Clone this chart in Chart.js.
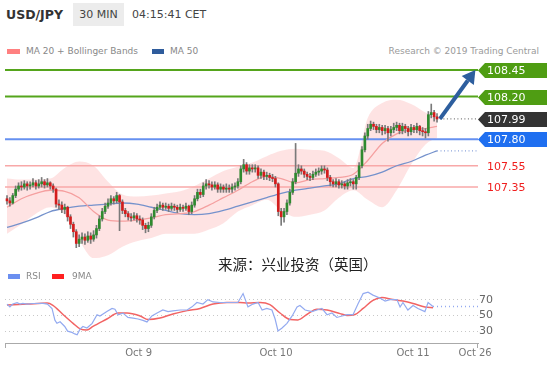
<!DOCTYPE html>
<html>
<head>
<meta charset="utf-8">
<script src="https://cdn.jsdelivr.net/npm/chart.js@4.4.1/dist/chart.umd.min.js"></script>
<style>
  body { margin: 0; width: 547px; height: 365px; position: relative; background: #fff; overflow: hidden; font-family: "DejaVu Sans", sans-serif; }
  .a { position: absolute; white-space: nowrap; }
  .sw { position: absolute; height: 5px; }
  .lg { font-size: 9px; color: #888; line-height: 12px; }
  canvas { position: absolute; left: 0; }
</style>
</head>
<body>
<div class="a" style="left:6px;top:3px;line-height:23px;font-weight:bold;font-size:12.5px;color:#333">USD/JPY</div>
<div class="a" style="left:73px;top:3px;width:51px;height:23px;line-height:23px;background:#ececec;text-align:center;font-size:11px;color:#444">30 MIN</div>
<div class="a" style="left:132px;top:3px;line-height:23px;font-size:11px;color:#444">04:15:41 CET</div>

<div class="sw" style="left:7px;top:49px;width:13px;background:#ff8080"></div>
<div class="a lg" style="left:26px;top:45px">MA 20 + Bollinger Bands</div>
<div class="sw" style="left:152px;top:49px;width:12px;background:#2f5c9c"></div>
<div class="a lg" style="left:170px;top:45px">MA 50</div>
<div class="a lg" style="right:8px;top:45px;color:#9a9a9a">Research © 2019 Trading Central</div>

<canvas id="main" width="547" height="200" style="top:58px"></canvas>

<div class="a" style="left:218px;top:254px;font-size:14.5px;line-height:20px;color:#222;font-family:'Noto Sans CJK SC',sans-serif">来源：兴业投资（英国）</div>

<div class="sw" style="left:8px;top:274px;width:12px;background:#6b8ff0"></div>
<div class="a lg" style="left:26px;top:270px">RSI</div>
<div class="sw" style="left:52px;top:274px;width:12px;background:#ff2020"></div>
<div class="a lg" style="left:72px;top:270px">9MA</div>

<canvas id="rsi" width="547" height="85" style="top:280px"></canvas>

<script>
// 30 min candles, index 0 = first candle on the left
const firstOpen = 107.24;
const closes = [
  107.22,107.20,107.27,107.33,107.36,107.35,107.38,107.36,107.37,107.39,
  107.36,107.38,107.40,107.37,107.39,107.36,107.33,107.19,107.18,107.14,
  107.16,107.07,107.00,106.93,106.82,106.86,106.88,106.85,106.89,106.86,
  106.90,106.96,107.05,107.12,107.17,107.20,107.24,107.22,107.27,107.21,
  107.13,107.10,107.07,107.06,107.08,107.05,107.04,106.99,106.96,106.99,
  107.07,107.13,107.16,107.18,107.16,107.17,107.15,107.17,107.16,107.14,
  107.16,107.15,107.17,107.12,107.18,107.24,107.30,107.28,107.36,107.38,
  107.37,107.35,107.37,107.33,107.35,107.33,107.34,107.33,107.35,107.36,
  107.40,107.52,107.56,107.50,107.53,107.52,107.53,107.46,107.49,107.45,
  107.46,107.44,107.43,107.38,107.12,107.07,107.12,107.20,107.30,107.40,
  107.48,107.52,107.50,107.47,107.45,107.44,107.47,107.49,107.50,107.52,
  107.51,107.44,107.40,107.38,107.40,107.37,107.38,107.36,107.39,107.40,
  107.38,107.44,107.55,107.70,107.83,107.90,107.94,107.92,107.89,107.91,
  107.88,107.90,107.86,107.89,107.91,107.93,107.88,107.92,107.90,107.87,
  107.91,107.89,107.92,107.88,107.87,107.86,108.03,108.05,108.01,107.99
];
const highs = [
  107.27,107.25,107.29,107.36,107.39,107.40,107.41,107.40,107.40,107.43,
  107.41,107.42,107.44,107.42,107.43,107.40,107.38,107.34,107.23,107.21,
  107.19,107.17,107.09,107.02,106.95,106.90,106.92,106.91,106.93,106.92,
  106.94,106.99,107.08,107.15,107.20,107.24,107.27,107.26,107.30,107.28,
  107.23,107.15,107.12,107.10,107.11,107.10,107.08,107.06,107.01,107.02,
  107.10,107.16,107.19,107.21,107.20,107.20,107.19,107.20,107.19,107.18,
  107.19,107.18,107.20,107.18,107.21,107.27,107.33,107.33,107.39,107.42,
  107.41,107.40,107.40,107.39,107.38,107.37,107.38,107.37,107.38,107.39,
  107.43,107.55,107.61,107.58,107.56,107.56,107.56,107.55,107.52,107.51,
  107.49,107.48,107.47,107.45,107.39,107.15,107.15,107.23,107.33,107.43,
  107.76,107.56,107.55,107.52,107.49,107.48,107.50,107.52,107.53,107.55,
  107.55,107.53,107.46,107.42,107.43,107.42,107.41,107.40,107.42,107.43,
  107.42,107.46,107.58,107.73,107.86,107.94,107.97,107.96,107.94,107.94,
  107.93,107.93,107.92,107.92,107.95,107.96,107.95,107.95,107.94,107.92,
  107.94,107.93,107.95,107.93,107.91,107.90,108.06,108.13,108.07,108.04
];
const lows = [
  107.19,107.17,107.19,107.25,107.31,107.32,107.33,107.32,107.33,107.35,
  107.33,107.34,107.35,107.34,107.35,107.33,107.30,107.16,107.14,107.11,
  107.10,107.03,106.96,106.88,106.78,106.79,106.82,106.81,106.83,106.82,
  106.84,106.87,106.94,107.03,107.10,107.15,107.18,107.19,107.20,106.94,
  107.10,107.07,107.04,107.03,107.04,107.02,107.00,106.95,106.92,106.93,
  106.97,107.05,107.11,107.14,107.13,107.14,107.12,107.13,107.13,107.11,
  107.12,107.12,107.13,107.09,107.10,107.16,107.22,107.25,107.26,107.33,
  107.34,107.32,107.33,107.30,107.30,107.30,107.30,107.30,107.30,107.32,
  107.34,107.38,107.49,107.47,107.47,107.49,107.49,107.43,107.43,107.42,
  107.42,107.41,107.40,107.35,107.08,106.99,107.02,107.09,107.18,107.28,
  107.38,107.45,107.47,107.44,107.42,107.41,107.42,107.45,107.46,107.47,
  107.48,107.41,107.36,107.35,107.35,107.34,107.34,107.33,107.33,107.36,
  107.33,107.33,107.42,107.53,107.68,107.80,107.88,107.89,107.86,107.86,
  107.84,107.85,107.78,107.83,107.86,107.88,107.85,107.85,107.86,107.83,
  107.84,107.86,107.86,107.84,107.83,107.81,107.83,108.00,107.97,107.96
];

// indicators read every 5 candles
const bandIdx = [0,5,10,15,20,25,30,35,40,45,50,55,60,65,70,75,80,85,90,95,100,105,110,115,120,125,130,135,140,145,149];
const ma20 = [107.16,107.24,107.29,107.32,107.31,107.25,107.12,107.04,107.03,107.04,107.06,107.09,107.10,107.12,107.18,107.25,107.32,107.40,107.45,107.43,107.39,107.42,107.43,107.44,107.47,107.60,107.76,107.85,107.89,107.90,107.92];
const bbUpper = [107.43,107.42,107.42,107.43,107.53,107.59,107.55,107.40,107.28,107.26,107.27,107.29,107.31,107.36,107.43,107.50,107.54,107.58,107.64,107.69,107.71,107.70,107.69,107.62,107.53,108.00,108.14,108.17,108.13,108.05,108.00];
const bbLower = [106.91,107.00,107.10,107.16,107.09,106.85,106.68,106.71,106.79,106.84,106.87,106.91,106.91,106.91,106.95,107.01,107.12,107.18,107.23,107.13,107.07,107.09,107.13,107.25,107.32,107.23,107.16,107.32,107.56,107.75,107.81];
const ma50 = [106.97,107.01,107.06,107.12,107.15,107.17,107.18,107.19,107.20,107.19,107.16,107.13,107.10,107.09,107.10,107.13,107.17,107.21,107.25,107.29,107.32,107.34,107.36,107.38,107.43,107.45,107.49,107.55,107.59,107.65,107.69];

// support / resistance levels and right-side tags
const levelVals = [108.45, 108.20, 107.80, 107.55, 107.35];
const levelColors = ['#55a51c', '#55a51c', '#6690f0', '#f8a8a8', '#f8a8a8'];
const tagVals = [108.45, 108.20, 107.99, 107.80, 107.55, 107.35];
const tagBg = ['#4f9d13', '#4f9d13', '#333333', '#1f6ff0', null, null];
const tagFg = ['#fff', '#fff', '#fff', '#fff', '#f01e1e', '#f01e1e'];
const arrowFrom = [150, 107.99];
const arrowTo = [162.3, 108.45];

// RSI panel
const rsiIdx = [0,1,2,3.5,4.5,5.5,7,9,12.5,14,
  15.6,16.6,17.3,18.4,20,21,22.5,23.5,24.3,25.3,
  26.3,27.7,29.5,31.2,32.2,34.6,36.4,37.4,38.5,40.2,
  41.9,43.7,45.4,47.1,48.5,50.2,52,54,55.8,57.5,
  60,62.4,64.1,65.8,67.9,69.6,71.4,73.8,76.2,78.3,
  80,81.8,83.5,85.2,87,88.4,90,91.8,92.9,93.9,
  95.3,97,98.8,100.5,101.5,103.3,105.7,107.4,109.1,110.9,
  112.6,114.3,116.1,117.8,119.9,121.6,123.4,125.1,126.8,129.2,
  131,132.7,135.1,136.2,137.2,138.9,140.7,142.4,144.8,145.9,147.6];
const rsiVal = [64.6,61,64.6,66.5,64.6,65.5,64.6,65.3,65.5,64.6,
  59,44,40,42,36,30,28.4,26.5,25.4,32.6,
  36,34,40,51,49.4,55,59,58,51,53,
  47.5,46.7,45.5,43.7,41.8,49.4,53.2,57,55,55.8,
  57,57,61,66.6,64.6,70.3,67.3,66.6,66.6,66.6,
  66.6,78,61,64.6,66.6,57,59,57,45.5,30.3,
  34,40,49.4,60.9,62.7,57,55,57,59,51,
  53.2,47.5,49.4,51,51,64.6,78,79.8,76,72.3,
  68.4,70.3,70.3,60.9,66.6,57,62.7,59,55,66.6,61.5];
const maIdx = [0,7,13.9,15.9,19.4,22.9,25.3,27.7,29.8,34.6,38.5,41.6,46.1,48.9,53,57.5,62.4,66.9,71.4,76.2,80.7,83.5,87.7,91.1,94.6,98.1,100.8,103.9,107.4,110.9,115.4,117.8,120.6,123.4,126.8,129.9,133.7,137.2,140.7,144.8,147.6];
const ma9Val = [63.5,64.6,65.8,63,51.3,40,33,31.5,36,45.5,53.2,53.2,49.4,44.8,46.7,52,56.2,59,64.6,66.6,66.5,66,66.5,63.8,53.2,44.8,44.4,51.3,58.1,57,52.4,50.1,51.3,59,69.3,73,70.3,68.4,65.4,60.9,60];
const rsiGrid = [30, 50, 70];

const tickPos = [45.6, 93.2, 140.7, 162.2];
const tickLabels = ['Oct 9', 'Oct 10', 'Oct 11', 'Oct 26'];

const xMin = -0.693, xMax = 163.2;

Chart.defaults.font.family = '"DejaVu Sans", sans-serif';
Chart.defaults.animation = false;

const pts = (xs, ys) => xs.map((v, k) => ({x: v, y: ys[k]}));
const idx = closes.map((c, i) => i);
const opens = closes.map((c, i) => i === 0 ? firstOpen : closes[i - 1]);
const upColor = '#2f8a2f', downColor = '#d41c1c';

const lastIdx = idx[idx.length - 1];
const levelSets = levelVals.map((v, k) => ({
  type: 'line', data: [{x: xMin, y: v}, {x: xMax, y: v}],
  borderColor: levelColors[k], borderWidth: k < 3 ? 2 : 1.5,
  pointRadius: 0, order: 5
}));

const overlay = {
  id: 'overlay',
  afterDatasetsDraw(chart) {
    const {ctx, chartArea} = chart;
    const x = chart.scales.x, y = chart.scales.y;
    // arrow
    const p0 = {x: x.getPixelForValue(arrowFrom[0]), y: y.getPixelForValue(arrowFrom[1])};
    const p1 = {x: x.getPixelForValue(arrowTo[0]), y: y.getPixelForValue(arrowTo[1])};
    const ang = Math.atan2(p1.y - p0.y, p1.x - p0.x);
    const head = 13, hw = 7.5;
    const bx = p1.x - head * Math.cos(ang), by = p1.y - head * Math.sin(ang);
    ctx.save();
    ctx.strokeStyle = '#2d5e9e';
    ctx.fillStyle = '#2d5e9e';
    ctx.lineWidth = 4;
    ctx.beginPath(); ctx.moveTo(p0.x, p0.y); ctx.lineTo(bx, by); ctx.stroke();
    ctx.beginPath();
    ctx.moveTo(p1.x, p1.y);
    ctx.lineTo(bx + hw * Math.sin(ang), by - hw * Math.cos(ang));
    ctx.lineTo(bx - hw * Math.sin(ang), by + hw * Math.cos(ang));
    ctx.closePath(); ctx.fill();
    ctx.restore();

    // price tags
    const left = chartArea.right;
    tagVals.forEach((v, k) => {
      const py = Math.round(y.getPixelForValue(v)) + 0.5;
      ctx.save();
      if (tagBg[k]) {
        ctx.fillStyle = tagBg[k];
        ctx.beginPath();
        ctx.moveTo(left, py);
        ctx.lineTo(left + 7, py - 7.5);
        ctx.lineTo(chart.width, py - 7.5);
        ctx.lineTo(chart.width, py + 7.5);
        ctx.lineTo(left + 7, py + 7.5);
        ctx.closePath(); ctx.fill();
      }
      ctx.fillStyle = tagFg[k];
      ctx.font = '11px "DejaVu Sans"';
      ctx.textBaseline = 'middle';
      ctx.fillText(v.toFixed(2), left + 9, py + 0.5);
      ctx.restore();
    });
  }
};

new Chart('main', {
  type: 'bar',
  data: {
    datasets: [
      { type: 'line', data: pts(bandIdx, bbUpper), borderWidth: 0, pointRadius: 0,
        fill: '+1', backgroundColor: 'rgba(250,150,150,0.27)', cubicInterpolationMode: 'monotone', order: 10 },
      { type: 'line', data: pts(bandIdx, bbLower), borderWidth: 0, pointRadius: 0,
        fill: false, cubicInterpolationMode: 'monotone', order: 10 },
      ...levelSets,
      { type: 'line', data: [{x: lastIdx + 1, y: closes[lastIdx]}, {x: xMax, y: closes[lastIdx]}],
        borderColor: '#777', borderWidth: 1.3, borderDash: [1, 2.5], pointRadius: 0, order: 5 },
      { type: 'line', data: [{x: lastIdx, y: ma50[ma50.length - 1]}, {x: xMax, y: ma50[ma50.length - 1]}],
        borderColor: '#8aa3da', borderWidth: 1.3, borderDash: [1, 2.5], pointRadius: 0, order: 5 },
      { type: 'line', data: pts(bandIdx, ma20), borderColor: '#f5a0a0', borderWidth: 1.3,
        pointRadius: 0, cubicInterpolationMode: 'monotone', order: 4 },
      { type: 'line', data: pts(bandIdx, ma50), borderColor: '#7592cc', borderWidth: 1.3,
        pointRadius: 0, cubicInterpolationMode: 'monotone', order: 4 },
      { data: idx.map(i => ({x: i, y: [lows[i], highs[i]]})), backgroundColor: '#7a7a7a',
        barThickness: 1, grouped: false, order: 2 },
      { data: idx.map(i => ({x: i, y: [opens[i], closes[i]]})),
        backgroundColor: idx.map(i => closes[i] >= opens[i] ? upColor : downColor),
        barThickness: 2, minBarLength: 1, grouped: false, order: 1 }
    ]
  },
  options: {
    responsive: false,
    animation: false,
    layout: { padding: { left: 5, right: 69, top: 0, bottom: 0 } },
    plugins: { legend: { display: false }, tooltip: { enabled: false } },
    scales: {
      x: { type: 'linear', min: xMin, max: xMax, display: false, offset: false },
      y: { type: 'linear', min: 106.6831, max: 108.5628, display: false, beginAtZero: false }
    }
  },
  plugins: [overlay]
});

const axisEnds = {
  id: 'axisEnds',
  afterDraw(chart) {
    const {ctx, chartArea} = chart;
    ctx.save();
    ctx.strokeStyle = '#aaa';
    ctx.lineWidth = 1;
    [chartArea.left + 0.5, chartArea.right - 0.5].forEach(px => {
      ctx.beginPath();
      ctx.moveTo(px, chartArea.bottom);
      ctx.lineTo(px, chartArea.bottom + 5);
      ctx.stroke();
    });
    ctx.restore();
  }
};

new Chart('rsi', {
  type: 'line',
  data: {
    datasets: [
      { data: pts(maIdx, ma9Val), borderColor: '#f26464', borderWidth: 1.5, pointRadius: 0,
        cubicInterpolationMode: 'monotone', order: 2 },
      { data: pts(rsiIdx, rsiVal), borderColor: '#93aaf0', borderWidth: 1.2, pointRadius: 0, order: 1 },
      { data: [{x: rsiIdx[rsiIdx.length - 1], y: rsiVal[rsiVal.length - 1]}, {x: xMax, y: rsiVal[rsiVal.length - 1]}],
        borderColor: '#93aaf0', borderWidth: 1.3, borderDash: [1, 3], pointRadius: 0, order: 3 }
    ]
  },
  options: {
    responsive: false,
    animation: false,
    layout: { padding: { left: 5, right: 0, top: 2, bottom: 0 } },
    plugins: { legend: { display: false }, tooltip: { enabled: false } },
    scales: {
      x: {
        type: 'linear', min: xMin, max: xMax, offset: false,
        afterBuildTicks: s => { s.ticks = tickPos.map(v => ({value: v})); },
        afterFit: s => { s.height = 22; },
        ticks: {
          autoSkip: false, maxRotation: 0, padding: 4, color: '#777', font: { size: 10 },
          callback: v => tickLabels[tickPos.indexOf(v)]
        },
        grid: { display: false, drawTicks: false },
        border: { display: true, color: '#aaa', width: 1 }
      },
      y: {
        position: 'right', min: 14.9, max: 85.6,
        afterBuildTicks: s => { s.ticks = rsiGrid.map(v => ({value: v})); },
        afterFit: s => { s.width = 69; },
        ticks: { padding: 1, color: '#666', font: { size: 11 } },
        grid: { color: '#c8c8c8', drawTicks: false, lineWidth: 1 },
        border: { display: false, dash: [1, 3] }
      }
    }
  },
  plugins: [axisEnds]
});
</script>
</body>
</html>
